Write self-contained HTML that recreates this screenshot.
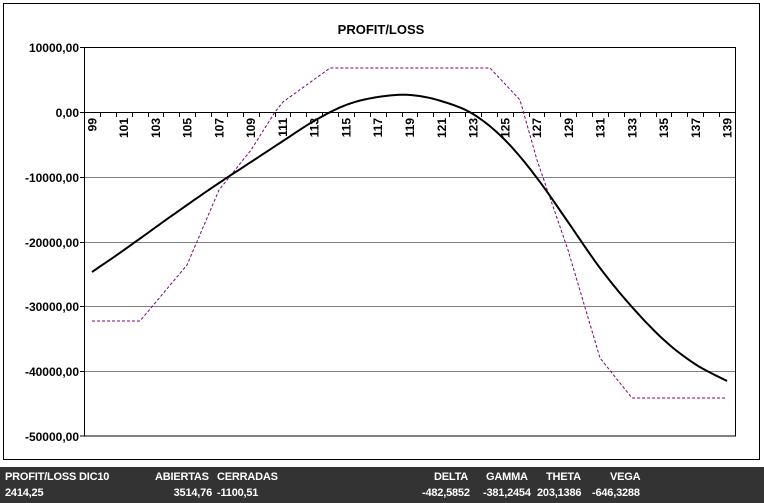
<!DOCTYPE html>
<html><head><meta charset="utf-8"><style>
body{margin:0;width:764px;height:503px;background:#fff;overflow:hidden;font-family:"Liberation Sans",Arial,sans-serif}
.bar{position:absolute;left:0;top:467px;width:764px;height:36px;background:#333}
.t{position:absolute;color:#fff;font:bold 11px "Liberation Sans Narrow","Liberation Sans",sans-serif;white-space:nowrap;letter-spacing:-0.2px}
.r{text-align:right}
</style></head><body>
<svg width="764" height="467" style="position:absolute;left:0;top:0" font-family="Liberation Sans, Arial, sans-serif">
<rect x="3.5" y="3.5" width="756" height="456" fill="#fff" stroke="#000"/>
<text x="381" y="34" text-anchor="middle" font-size="13" font-weight="bold">PROFIT/LOSS</text>
<g stroke="#808080">
<line x1="84" x2="735" y1="177.5" y2="177.5"/><line x1="84" x2="735" y1="242.5" y2="242.5"/>
<line x1="84" x2="735" y1="306.5" y2="306.5"/><line x1="84" x2="735" y1="371.5" y2="371.5"/>
</g>
<rect x="84.5" y="47.5" width="651" height="388.5" fill="none" stroke="#000"/>
<line x1="84" x2="735" y1="112.5" y2="112.5" stroke="#000"/>
<g stroke="#000">
<line x1="80" x2="84" y1="47.5" y2="47.5"/><line x1="80" x2="84" y1="112.5" y2="112.5"/><line x1="80" x2="84" y1="177.5" y2="177.5"/><line x1="80" x2="84" y1="242.5" y2="242.5"/><line x1="80" x2="84" y1="306.5" y2="306.5"/><line x1="80" x2="84" y1="371.5" y2="371.5"/><line x1="80" x2="84" y1="436" y2="436"/>
</g>
<g font-size="12" font-weight="bold" text-anchor="end">
<text x="79" y="52">10000,00</text><text x="79" y="117">0,00</text><text x="79" y="182">-10000,00</text><text x="79" y="247">-20000,00</text><text x="79" y="311">-30000,00</text><text x="79" y="376">-40000,00</text><text x="79" y="441">-50000,00</text>
</g>
<g id="ticks" stroke="#000"></g>
<g id="xl" font-size="12" font-weight="bold"></g>
<polyline fill="none" stroke="#800080" stroke-width="1" stroke-dasharray="3,2" points="92,321 140,321 187,265 219,190 251,150 275,112 283,102 330,68 490,68 520,100 537,160 568,250 600,358 632,398 727,398"/>
<polyline id="blk" fill="none" stroke="#000" stroke-width="2"/>
</svg>
<div class="bar"></div>
<div class="t" style="left:5px;top:471px">PROFIT/LOSS DIC10</div>
<div class="t" style="left:155px;top:471px">ABIERTAS</div>
<div class="t" style="left:217px;top:471px">CERRADAS</div>
<div class="t" style="left:434px;top:471px">DELTA</div>
<div class="t" style="left:486px;top:471px">GAMMA</div>
<div class="t" style="left:546px;top:471px">THETA</div>
<div class="t" style="left:610px;top:471px">VEGA</div>
<div class="t" style="left:5px;top:487px">2414,25</div>
<div class="t r" style="left:150px;width:62px;top:487px">3514,76</div>
<div class="t" style="left:217px;top:487px">-1100,51</div>
<div class="t" style="left:422px;top:487px">-482,5852</div>
<div class="t" style="left:483px;top:487px">-381,2454</div>
<div class="t" style="left:537px;top:487px">203,1386</div>
<div class="t" style="left:592px;top:487px">-646,3288</div>
<script>
var ns="http://www.w3.org/2000/svg",tk=document.getElementById("ticks"),xl=document.getElementById("xl");
var w=651/41;
for(var i=0;i<=41;i++){var x=Math.round(84+i*w)+0.5;var l=document.createElementNS(ns,"line");l.setAttribute("x1",x);l.setAttribute("x2",x);l.setAttribute("y1",112);l.setAttribute("y2",117);tk.appendChild(l);}
for(var c=99;c<=139;c+=2){var cx=84+(c-99+0.5)*w+4.5;var t=document.createElementNS(ns,"text");t.setAttribute("transform","translate("+cx+",118) rotate(-90)");t.setAttribute("text-anchor","end");t.textContent=c;xl.appendChild(t);}
var pts=[[92,272],[124,250],[156,227],[187,205],[219,183],[251,162],[283,141],[314,121],[346,105],[378,97],[410,95],[441,101],[473,114],[505,140],[537,178],[568,222],[600,268],[632,307],[664,340],[695,364],[727,381]];
var out=[];for(var i=0;i<pts.length-1;i++){var p0=pts[Math.max(0,i-1)],p1=pts[i],p2=pts[i+1],p3=pts[Math.min(pts.length-1,i+2)];for(var s=0;s<10;s++){var t=s/10,t2=t*t,t3=t2*t;var f=function(a,b,c,d){return 0.5*(2*b+(-a+c)*t+(2*a-5*b+4*c-d)*t2+(-a+3*b-3*c+d)*t3)};out.push(f(p0[0],p1[0],p2[0],p3[0]).toFixed(1)+","+f(p0[1],p1[1],p2[1],p3[1]).toFixed(1));}}
out.push("727,381");document.getElementById("blk").setAttribute("points",out.join(" "));
</script>
</body></html>
